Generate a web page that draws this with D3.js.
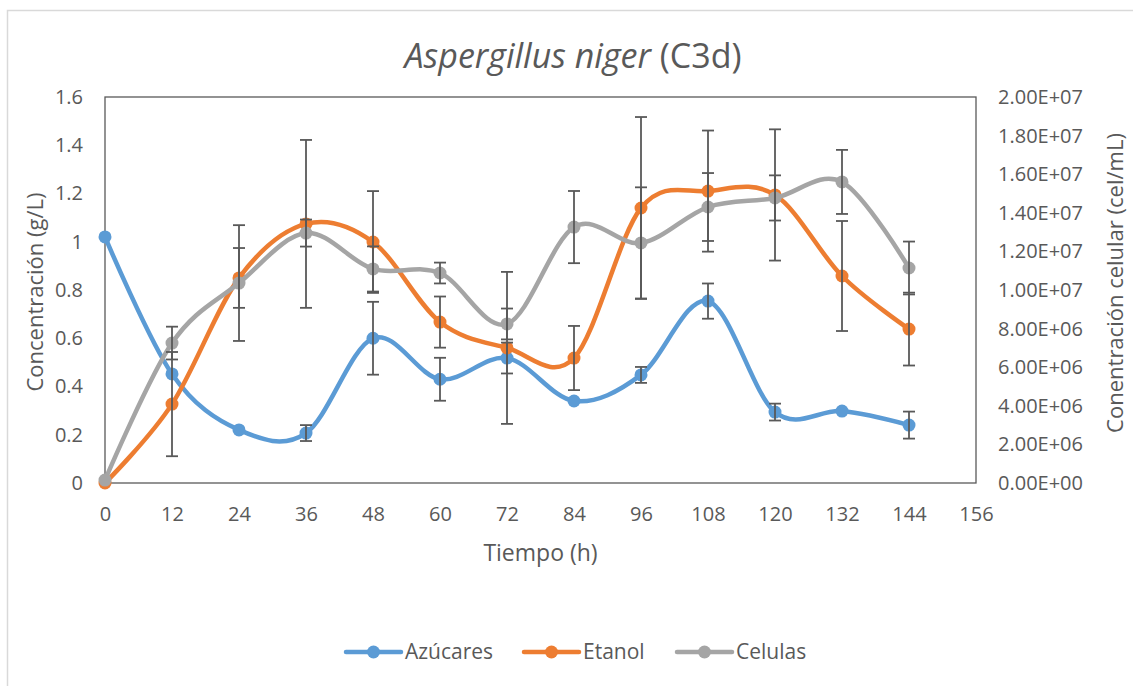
<!DOCTYPE html>
<html>
<head>
<meta charset="utf-8">
<script src="https://cdn.jsdelivr.net/npm/d3@7"></script>
<style>
  body { margin: 0; background: #fff; }
  text { font-family: "Open Sans", Lato, sans-serif; fill: #595959; }
</style>
</head>
<body>
<svg id="chart" width="1133" height="686"></svg>
<script>
// ─── Data ───────────────────────────────────────────────────────────────────
const hours      = [0, 12, 24, 36, 48, 60, 72, 84, 96, 108, 120, 132, 144];
const sugars     = [1.02, 0.452, 0.22, 0.207, 0.60, 0.43, 0.518, 0.34, 0.448, 0.754, 0.294, 0.298, 0.24];
const sugarsErr  = [0, 0, 0, 0.033, 0.151, 0.089, 0.064, 0, 0.033, 0.073, 0.035, 0, 0.056];
const ethanol    = [0, 0.327, 0.85, 1.074, 0.999, 0.667, 0.56, 0.518, 1.14, 1.21, 1.194, 0.858, 0.638];
const ethanolErr = [0, 0.216, 0.124, 0.348, 0.211, 0.106, 0.315, 0.133, 0.377, 0.251, 0.272, 0.228, 0.151];
const cells      = [1.5e5, 7.25e6, 1.036e7, 1.295e7, 1.109e7, 1.088e7, 8.24e6, 1.326e7, 1.244e7, 1.43e7, 1.477e7, 1.56e7, 1.114e7];
const cellsErr   = [0, 8.5e5, 3.0e6, 7.0e5, 1.17e6, 5.4e5, 8.0e5, 1.87e6, 2.88e6, 1.76e6, 1.17e6, 1.66e6, 1.37e6];

const xTicks     = d3.range(0, 157, 12);
const leftTicks  = [0, 0.2, 0.4, 0.6, 0.8, 1, 1.2, 1.4, 1.6];
const rightTicks = d3.range(0, 2.01e7, 2e6);

// ─── Layout ──────────────────────────────────────────────────────────────────
const PLOT = { left: 105, right: 976, top: 97, bottom: 483 };
const TEXT = '#595959';
const FRAME = '#595959';

const x  = d3.scaleLinear().domain([0, 156]).range([PLOT.left, PLOT.right]);
const yL = d3.scaleLinear().domain([0, 1.6]).range([PLOT.bottom, PLOT.top]);
const yR = d3.scaleLinear().domain([0, 2e7]).range([PLOT.bottom, PLOT.top]);

// Excel-style scientific label: 2.00E+07
function sci(v) {
  if (v === 0) return '0.00E+00';
  const e = Math.floor(Math.log10(Math.abs(v)) + 1e-9);
  const m = v / Math.pow(10, e);
  return m.toFixed(2) + 'E' + (e < 0 ? '-' : '+') + String(Math.abs(e)).padStart(2, '0');
}

const series = [
  { name: 'Azúcares', color: '#5B9BD5', values: sugars,  errs: sugarsErr,  y: yL },
  { name: 'Etanol',   color: '#ED7D31', values: ethanol, errs: ethanolErr, y: yL },
  { name: 'Celulas',  color: '#A5A5A5', values: cells,   errs: cellsErr,   y: yR },
];

const svg = d3.select('#chart');

// outer chart border (only top/left edges fall inside the picture)
svg.append('rect')
  .attr('x', 7.5).attr('y', 10.5)
  .attr('width', 1140).attr('height', 700)
  .attr('fill', 'none').attr('stroke', '#d9d9d9').attr('stroke-width', 1.5);

// ─── Title ───────────────────────────────────────────────────────────────────
const title = svg.append('text')
  .attr('x', 573).attr('y', 68)
  .attr('text-anchor', 'middle')
  .style('font-size', '34px');
title.append('tspan').style('font-style', 'italic').text('Aspergillus niger');
title.append('tspan').text(' (C3d)');

// ─── Axes ────────────────────────────────────────────────────────────────────
function styleAxis(g) {
  g.select('.domain').remove();
  g.selectAll('text').style('font-size', '20px').attr('fill', TEXT);
}

svg.append('g')
  .attr('transform', `translate(0,${PLOT.bottom})`)
  .call(d3.axisBottom(x).tickValues(xTicks).tickSize(0).tickPadding(24).tickFormat(d3.format('d')))
  .call(styleAxis);

svg.append('g')
  .attr('transform', `translate(${PLOT.left},0)`)
  .call(d3.axisLeft(yL).tickValues(leftTicks).tickSize(0).tickPadding(22).tickFormat(d => String(+d.toFixed(1))))
  .call(styleAxis);

svg.append('g')
  .attr('transform', `translate(${PLOT.right},0)`)
  .call(d3.axisRight(yR).tickValues(rightTicks).tickSize(0).tickPadding(22).tickFormat(sci))
  .call(styleAxis);

// plot frame
svg.append('rect')
  .attr('x', PLOT.left).attr('y', PLOT.top)
  .attr('width', PLOT.right - PLOT.left).attr('height', PLOT.bottom - PLOT.top)
  .attr('fill', 'none').attr('stroke', FRAME).attr('stroke-width', 1.3);

// axis titles
svg.append('text')
  .attr('transform', 'translate(43,292) rotate(-90)')
  .attr('text-anchor', 'middle')
  .style('font-size', '22px')
  .text('Concentración (g/L)');

svg.append('text')
  .attr('transform', 'translate(1123,283) rotate(-90)')
  .attr('text-anchor', 'middle')
  .style('font-size', '22px')
  .text('Conentración celular (cel/mL)');

svg.append('text')
  .attr('x', (PLOT.left + PLOT.right) / 2).attr('y', 561)
  .attr('text-anchor', 'middle')
  .style('font-size', '23px')
  .text('Tiempo (h)');

// ─── Series ──────────────────────────────────────────────────────────────────
const curve = d3.curveCardinal.tension(0);

series.forEach(s => {
  const pts = hours.map((h, i) => [h, s.values[i]]);
  const line = d3.line().x(d => x(d[0])).y(d => s.y(d[1])).curve(curve);

  svg.append('path')
    .attr('d', line(pts))
    .attr('fill', 'none')
    .attr('stroke', s.color)
    .attr('stroke-width', 4.5)
    .attr('stroke-linecap', 'round');

  svg.append('g')
    .selectAll('circle')
    .data(pts)
    .join('circle')
    .attr('cx', d => x(d[0]))
    .attr('cy', d => s.y(d[1]))
    .attr('r', 6.5)
    .attr('fill', s.color);
});

// error bars on top of everything
const CAP = 6;
series.forEach(s => {
  const bars = hours.map((h, i) => ({ h, v: s.values[i], e: s.errs[i] })).filter(d => d.e > 0);
  const g = svg.append('g').attr('stroke', '#595959').attr('stroke-width', 1.8);
  g.selectAll('line.v').data(bars).join('line')
    .attr('x1', d => x(d.h)).attr('x2', d => x(d.h))
    .attr('y1', d => s.y(d.v - d.e)).attr('y2', d => s.y(d.v + d.e));
  g.selectAll('line.t').data(bars).join('line')
    .attr('x1', d => x(d.h) - CAP).attr('x2', d => x(d.h) + CAP)
    .attr('y1', d => s.y(d.v + d.e)).attr('y2', d => s.y(d.v + d.e));
  g.selectAll('line.b').data(bars).join('line')
    .attr('x1', d => x(d.h) - CAP).attr('x2', d => x(d.h) + CAP)
    .attr('y1', d => s.y(d.v - d.e)).attr('y2', d => s.y(d.v - d.e));
});

// ─── Legend ──────────────────────────────────────────────────────────────────
const legendX = [346, 524, 677];
const legend = svg.append('g');
series.forEach((s, i) => {
  const g = legend.append('g').attr('transform', `translate(${legendX[i]},652)`);
  g.append('line').attr('x1', 0).attr('x2', 55).attr('y1', 0).attr('y2', 0)
    .attr('stroke', s.color).attr('stroke-width', 4.5).attr('stroke-linecap', 'round');
  g.append('circle').attr('cx', 27.5).attr('cy', 0).attr('r', 6.5).attr('fill', s.color);
  g.append('text').attr('x', 59).attr('y', 0).attr('dy', '0.35em')
    .style('font-size', '21px').text(s.name);
});
</script>
</body>
</html>
